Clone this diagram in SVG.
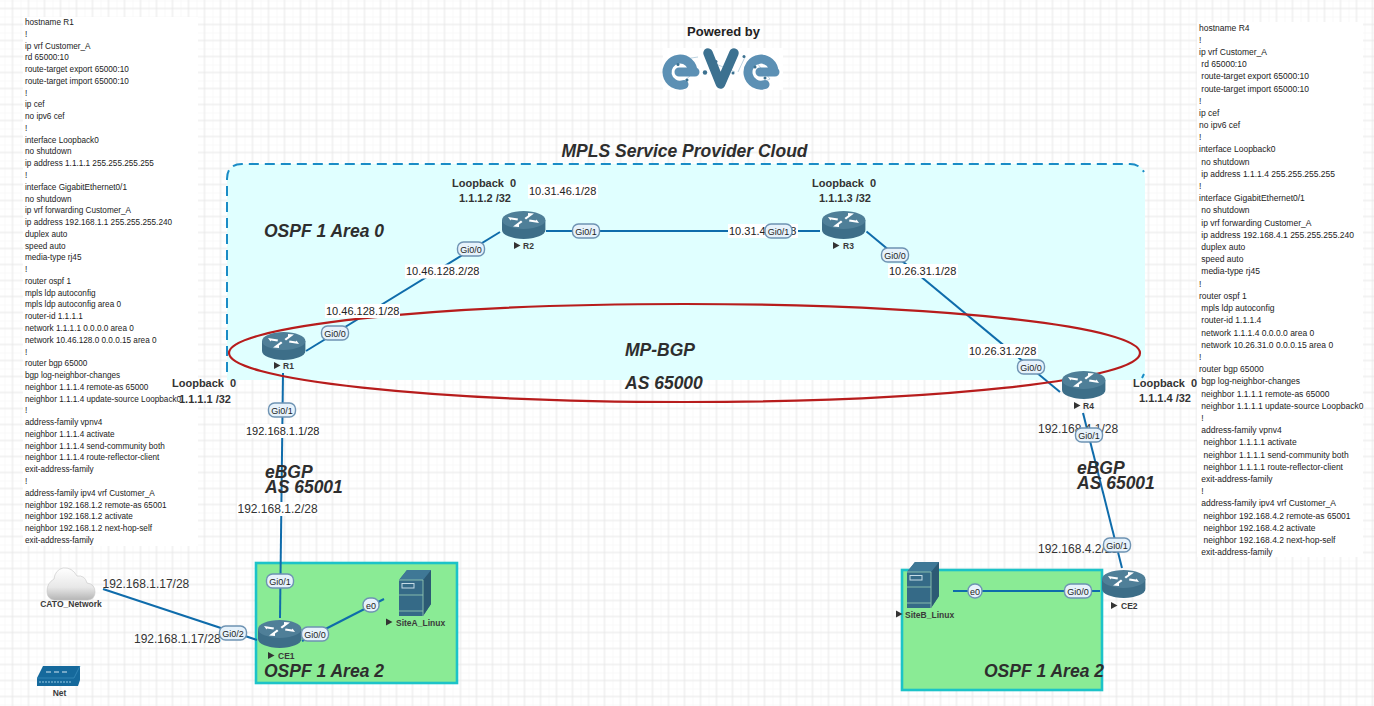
<svg xmlns="http://www.w3.org/2000/svg" width="1374" height="706" viewBox="0 0 1374 706">
<style>
text{font-family:"Liberation Sans",Arial,sans-serif;fill:#222}
.cfgL{font-size:8.2px}
.cfgR{font-size:8.5px}
.ip{font-size:11px;fill:#222}
.ipb{font-size:12px;fill:#333}
.lo{font-size:11px;font-weight:bold;fill:#333;white-space:pre}
.title{font-size:17.5px;font-weight:bold;font-style:italic;fill:#2e2e2e}
.name{font-size:8.5px;font-weight:bold;fill:#3a3a3a}
.pill{font-size:9px;text-anchor:middle;fill:#222}
.pb{fill:#e6f2fb;stroke:#6e93b3;stroke-width:1.4}
.bg{fill:#fff}
.link{stroke:#0f6cab;stroke-width:2;fill:none}
.area{fill:#8aeb95;stroke:#1cc3c8;stroke-width:2.6}
</style>
<defs>
<pattern id="grid" width="16" height="16" patternUnits="userSpaceOnUse" x="4.5" y="0.5">
<path d="M0,0V16M0,0H16" stroke="#f3f3f3" stroke-width="1" fill="none"/>
<path d="M8,0V16M0,8H16" stroke="#e7e7e7" stroke-width="1" fill="none"/>
</pattern>
<linearGradient id="cl" x1="0" y1="0" x2="0" y2="1"><stop offset="0" stop-color="#fff"/><stop offset=".6" stop-color="#e8e8e8"/><stop offset="1" stop-color="#b5b5b5"/></linearGradient>
<g id="router">
<path d="M0,9V19A21.7,9 0 0 0 43.4,19V9Z" fill="#3d6e88"/>
<ellipse cx="21.7" cy="9" rx="21.7" ry="9" fill="#4f7f98"/>
<path d="M6,6L16,7.5 15.5,9.5 9,8.5 8.5,9.5ZM37,12L27,10.5 27.5,8.5 34,9.5 34.5,8.5ZM26,2L32,2.5 24,8.5 22.5,7 26,4.5ZM17,16L11,15.5 19,9.5 20.5,11 17,13.5Z" fill="#fff"/>
</g>
<g id="server">
<path d="M0,10L8,0H32V34L24,46H0Z" fill="#356a87"/>
<path d="M24,10L32,0V34L24,46Z" fill="#2c5a74"/>
<path d="M0,10L8,0H32L24,10Z" fill="#3f7896"/>
<path d="M0,10H24M0,25H24M0,41H24M24,10V46" stroke="#8fc4b0" stroke-width=".9" fill="none"/>
<rect x="3" y="13.5" width="12" height="4.5" fill="none" stroke="#c6dbe6" stroke-width="1"/>
</g>
<polygon id="tri" points="0,0 6.5,3.5 0,7" fill="#333"/>
</defs>

<rect width="1374" height="706" fill="#fff"/>
<rect width="1374" height="706" fill="url(#grid)"/>

<g id="config-r1">
<rect x="23" y="17" width="175" height="529" fill="#fff"/>
<text class="cfgL"><tspan x="25" y="25">hostname R1</tspan><tspan x="25" dy="11.77">!</tspan><tspan x="25" dy="11.77">ip vrf Customer_A</tspan><tspan x="25" dy="11.77">rd 65000:10</tspan><tspan x="25" dy="11.77">route-target export 65000:10</tspan><tspan x="25" dy="11.77">route-target import 65000:10</tspan><tspan x="25" dy="11.77">!</tspan><tspan x="25" dy="11.77">ip cef</tspan><tspan x="25" dy="11.77">no ipv6 cef</tspan><tspan x="25" dy="11.77">!</tspan><tspan x="25" dy="11.77">interface Loopback0</tspan><tspan x="25" dy="11.77">no shutdown</tspan><tspan x="25" dy="11.77">ip address 1.1.1.1 255.255.255.255</tspan><tspan x="25" dy="11.77">!</tspan><tspan x="25" dy="11.77">interface GigabitEthernet0/1</tspan><tspan x="25" dy="11.77">no shutdown</tspan><tspan x="25" dy="11.77">ip vrf forwarding Customer_A</tspan><tspan x="25" dy="11.77">ip address 192.168.1.1 255.255.255.240</tspan><tspan x="25" dy="11.77">duplex auto</tspan><tspan x="25" dy="11.77">speed auto</tspan><tspan x="25" dy="11.77">media-type rj45</tspan><tspan x="25" dy="11.77">!</tspan><tspan x="25" dy="11.77">router ospf 1</tspan><tspan x="25" dy="11.77">mpls ldp autoconfig</tspan><tspan x="25" dy="11.77">mpls ldp autoconfig area 0</tspan><tspan x="25" dy="11.77">router-id 1.1.1.1</tspan><tspan x="25" dy="11.77">network 1.1.1.1 0.0.0.0 area 0</tspan><tspan x="25" dy="11.77">network 10.46.128.0 0.0.0.15 area 0</tspan><tspan x="25" dy="11.77">!</tspan><tspan x="25" dy="11.77">router bgp 65000</tspan><tspan x="25" dy="11.77">bgp log-neighbor-changes</tspan><tspan x="25" dy="11.77">neighbor 1.1.1.4 remote-as 65000</tspan><tspan x="25" dy="11.77">neighbor 1.1.1.4 update-source Loopback0</tspan><tspan x="25" dy="11.77">!</tspan><tspan x="25" dy="11.77">address-family vpnv4</tspan><tspan x="25" dy="11.77">neighbor 1.1.1.4 activate</tspan><tspan x="25" dy="11.77">neighbor 1.1.1.4 send-community both</tspan><tspan x="25" dy="11.77">neighbor 1.1.1.4 route-reflector-client</tspan><tspan x="25" dy="11.77">exit-address-family</tspan><tspan x="25" dy="11.77">!</tspan><tspan x="25" dy="11.77">address-family ipv4 vrf Customer_A</tspan><tspan x="25" dy="11.77">neighbor 192.168.1.2 remote-as 65001</tspan><tspan x="25" dy="11.77">neighbor 192.168.1.2 activate</tspan><tspan x="25" dy="11.77">neighbor 192.168.1.2 next-hop-self</tspan><tspan x="25" dy="11.77">exit-address-family</tspan></text>
</g>

<g id="config-r4">
<rect x="1197" y="22" width="166" height="535" fill="#fff"/>
<text class="cfgR"><tspan x="1199" y="30.5">hostname R4</tspan><tspan x="1199" dy="12.2">!</tspan><tspan x="1199" dy="12.2">ip vrf Customer_A</tspan><tspan x="1201.3" dy="12.2">rd 65000:10</tspan><tspan x="1201.3" dy="12.2">route-target export 65000:10</tspan><tspan x="1201.3" dy="12.2">route-target import 65000:10</tspan><tspan x="1199" dy="12.2">!</tspan><tspan x="1199" dy="12.2">ip cef</tspan><tspan x="1199" dy="12.2">no ipv6 cef</tspan><tspan x="1199" dy="12.2">!</tspan><tspan x="1199" dy="12.2">interface Loopback0</tspan><tspan x="1201.3" dy="12.2">no shutdown</tspan><tspan x="1201.3" dy="12.2">ip address 1.1.1.4 255.255.255.255</tspan><tspan x="1199" dy="12.2">!</tspan><tspan x="1199" dy="12.2">interface GigabitEthernet0/1</tspan><tspan x="1201.3" dy="12.2">no shutdown</tspan><tspan x="1201.3" dy="12.2">ip vrf forwarding Customer_A</tspan><tspan x="1201.3" dy="12.2">ip address 192.168.4.1 255.255.255.240</tspan><tspan x="1201.3" dy="12.2">duplex auto</tspan><tspan x="1201.3" dy="12.2">speed auto</tspan><tspan x="1201.3" dy="12.2">media-type rj45</tspan><tspan x="1199" dy="12.2">!</tspan><tspan x="1199" dy="12.2">router ospf 1</tspan><tspan x="1201.3" dy="12.2">mpls ldp autoconfig</tspan><tspan x="1201.3" dy="12.2">router-id 1.1.1.4</tspan><tspan x="1201.3" dy="12.2">network 1.1.1.4 0.0.0.0 area 0</tspan><tspan x="1201.3" dy="12.2">network 10.26.31.0 0.0.0.15 area 0</tspan><tspan x="1199" dy="12.2">!</tspan><tspan x="1199" dy="12.2">router bgp 65000</tspan><tspan x="1201.3" dy="12.2">bgp log-neighbor-changes</tspan><tspan x="1201.3" dy="12.2">neighbor 1.1.1.1 remote-as 65000</tspan><tspan x="1201.3" dy="12.2">neighbor 1.1.1.1 update-source Loopback0</tspan><tspan x="1201.3" dy="12.2">!</tspan><tspan x="1201.3" dy="12.2">address-family vpnv4</tspan><tspan x="1203.6" dy="12.2">neighbor 1.1.1.1 activate</tspan><tspan x="1203.6" dy="12.2">neighbor 1.1.1.1 send-community both</tspan><tspan x="1203.6" dy="12.2">neighbor 1.1.1.1 route-reflector-client</tspan><tspan x="1201.3" dy="12.2">exit-address-family</tspan><tspan x="1201.3" dy="12.2">!</tspan><tspan x="1201.3" dy="12.2">address-family ipv4 vrf Customer_A</tspan><tspan x="1203.6" dy="12.2">neighbor 192.168.4.2 remote-as 65001</tspan><tspan x="1203.6" dy="12.2">neighbor 192.168.4.2 activate</tspan><tspan x="1203.6" dy="12.2">neighbor 192.168.4.2 next-hop-self</tspan><tspan x="1201.3" dy="12.2">exit-address-family</tspan></text>
</g>

<g id="logo">
<text x="723.5" y="36" font-size="13" font-weight="bold" text-anchor="middle" fill="#333">Powered by</text>
<rect x="663" y="48" width="120" height="42" fill="#fff"/>
<path d="M678,60L698,57M678,86L690,76M716,64L735,72M738,72L745,57M756,62L770,79M757,85L770,79" stroke="#9fbfd2" stroke-width=".7" fill="none"/>
<path d="M693,72A13,13 0 1 0 684,84.500M679,72H695" stroke="#5c90b4" stroke-width="9" stroke-linecap="round" fill="none"/>
<path d="M708,53L720.500,84L734,53" stroke="#3c7190" stroke-width="9.500" stroke-linecap="round" stroke-linejoin="round" fill="none"/>
<path d="M774,72A13,13 0 1 0 765,84.500M760,72H775" stroke="#5c90b4" stroke-width="9" stroke-linecap="round" fill="none"/>
<g fill="#3c7190"><circle cx="678" cy="64.500" r="1.500"/><circle cx="687" cy="80" r="1.500"/><circle cx="705" cy="72.500" r="2.200"/><circle cx="716" cy="61.500" r="1.500"/><circle cx="733" cy="73" r="1.500"/><circle cx="744" cy="56.500" r="1.500"/><circle cx="755" cy="67" r="1.500"/><circle cx="765" cy="78" r="1.500"/></g>
</g>

<g id="mpls-cloud">
<path d="M242,164H1130Q1145,164 1145,179V380H227V179Q227,164 242,164Z" fill="#e0ffff"/>
<path d="M227,372V179Q227,164 242,164H1130Q1139,164 1144,172M1144,374L1142,378" fill="none" stroke="#1a8cc6" stroke-width="2" stroke-dasharray="10 6"/>
<text class="title" x="561.500" y="157">MPLS Service Provider Cloud</text>
<text class="title" x="264" y="237">OSPF 1 Area 0</text>
</g>

<g id="area-left"><rect class="area" x="256" y="563" width="201" height="120"/></g>
<g id="area-right"><rect class="area" x="902" y="570" width="200" height="120"/></g>

<g id="connectors">
<line class="link" x1="306" y1="351" x2="500" y2="232"/>
<line class="link" x1="546" y1="231" x2="820" y2="231"/>
<line class="link" x1="866.500" y1="231.500" x2="1060" y2="392"/>
<line class="link" x1="283" y1="373" x2="280" y2="618"/>
<line class="link" x1="1083" y1="413" x2="1122" y2="568"/>
<line class="link" x1="103" y1="589" x2="257" y2="640"/>
<line class="link" x1="302" y1="641" x2="384" y2="599"/>
<line class="link" x1="953" y1="591" x2="1100" y2="591"/>
</g>

<g id="mp-bgp">
<ellipse cx="684.500" cy="353" rx="455.500" ry="49" fill="none" stroke="#b71c1c" stroke-width="2.200"/>
<text class="title" x="625" y="356">MP-BGP</text>
<text class="title" x="625" y="389">AS 65000</text>
</g>

<g id="R1"><use href="#router" x="262" y="332"/><use href="#tri" x="274" y="362"/><text class="name" x="283" y="369">R1</text>
<text class="lo" x="172" y="387">Loopback  0</text><text class="lo" x="179" y="403">1.1.1.1 /32</text></g>
<g id="R2"><use href="#router" x="502" y="211"/><use href="#tri" x="514" y="242"/><text class="name" x="523" y="249">R2</text>
<text class="lo" x="452" y="187">Loopback  0</text><text class="lo" x="459" y="202">1.1.1.2 /32</text></g>
<g id="R3"><use href="#router" x="822" y="211"/><use href="#tri" x="833" y="242"/><text class="name" x="843" y="249">R3</text>
<text class="lo" x="812" y="187">Loopback  0</text><text class="lo" x="819" y="202">1.1.1.3 /32</text></g>
<g id="R4"><use href="#router" x="1062" y="371"/><use href="#tri" x="1074" y="402"/><text class="name" x="1083" y="409">R4</text>
<text class="lo" x="1133" y="387">Loopback  0</text><text class="lo" x="1139" y="402">1.1.1.4 /32</text></g>
<g id="CE1"><use href="#router" x="258" y="620"/><use href="#tri" x="268" y="652"/><text class="name" x="278" y="659">CE1</text></g>
<g id="CE2"><use href="#router" x="1102" y="570"/><use href="#tri" x="1111" y="602"/><text class="name" x="1121" y="609">CE2</text></g>
<g id="SiteA_Linux"><use href="#server" x="399" y="570"/><use href="#tri" x="386" y="618.500"/><text class="name" x="396" y="625.500">SiteA_Linux</text></g>
<g id="SiteB_Linux"><use href="#server" x="907" y="562"/><use href="#tri" x="896" y="610.500"/><text class="name" x="905" y="617.500">SiteB_Linux</text></g>
<g id="CATO_Network">
<path d="M54,600H88Q95,599 95,592Q95,584 87,583Q85,575 77,576Q72,567 63,568Q55,570 54,579Q47,583 47,591Q47,599 54,600Z" fill="url(#cl)" stroke="#c4c4c4" stroke-width=".6"/>
<text class="name" x="71" y="606.500" text-anchor="middle">CATO_Network</text>
</g>
<g id="Net">
<path d="M37,678L43,666H80V680L78,686H37Z" fill="#15699c"/>
<path d="M37,678H74L80,666" fill="none" stroke="#3c8fbe" stroke-width=".7"/>
<path d="M46,672H68" stroke="#d4e6f0" stroke-width="1" stroke-dasharray="5 3"/>
<path d="M39,682H72" stroke="#6aa9cb" stroke-width="1.500" stroke-dasharray="2 1"/>
<text class="name" x="59.500" y="695.500" text-anchor="middle">Net</text>
</g>

<g id="ip-labels">
<rect class="bg" x="405" y="264.500" width="75" height="14"/><text class="ip" x="406" y="275">10.46.128.2/28</text>
<rect class="bg" x="325" y="304" width="75" height="14"/><text class="ip" x="326" y="315">10.46.128.1/28</text>
<rect class="bg" x="528" y="184.500" width="70" height="14"/><text class="ip" x="529" y="195">10.31.46.1/28</text>
<rect class="bg" x="728" y="224" width="70" height="14"/><text class="ip" x="729" y="235">10.31.46.2/28</text>
<rect class="bg" x="888" y="264" width="70" height="14"/><text class="ip" x="889" y="275">10.26.31.1/28</text>
<rect class="bg" x="968" y="344" width="70" height="14"/><text class="ip" x="969" y="355">10.26.31.2/28</text>
<rect class="bg" x="245" y="424" width="75" height="14"/><text class="ip" x="246" y="435">192.168.1.1/28</text>
<rect class="bg" x="237" y="502" width="81" height="14"/><text class="ipb" x="237.500" y="513">192.168.1.2/28</text>
<text class="ipb" x="102.500" y="588">192.168.1.17/28</text>
<text class="ipb" x="134" y="643">192.168.1.17/28</text>
<text class="ipb" x="1038" y="433">192.168.4.1/28</text>
<text class="ipb" x="1038" y="553">192.168.4.2/28</text>
</g>

<g id="ebgp-labels">
<text class="title" x="265" y="478">eBGP</text><text class="title" x="265" y="493">AS 65001</text>
<text class="title" x="1077" y="474">eBGP</text><text class="title" x="1077" y="489">AS 65001</text>
<text class="title" x="264" y="676.500">OSPF 1 Area 2</text>
<text class="title" x="984" y="676.500">OSPF 1 Area 2</text>
</g>

<g id="port-labels">
<rect class="pb" x="321.500" y="326" width="27" height="14" rx="6"/><text class="pill" x="335" y="336.500">Gi0/0</text>
<rect class="pb" x="457.500" y="242" width="27" height="14" rx="6"/><text class="pill" x="471" y="252.500">Gi0/0</text>
<rect class="pb" x="572.500" y="224" width="27" height="14" rx="6"/><text class="pill" x="586" y="234.500">Gi0/1</text>
<rect class="pb" x="765" y="224" width="27" height="14" rx="6"/><text class="pill" x="778.500" y="234.500">Gi0/1</text>
<rect class="pb" x="881.500" y="248" width="27" height="14" rx="6"/><text class="pill" x="895" y="258.500">Gi0/0</text>
<rect class="pb" x="1017.500" y="360" width="27" height="14" rx="6"/><text class="pill" x="1031" y="370.500">Gi0/0</text>
<rect class="pb" x="1075.500" y="428" width="27" height="14" rx="6"/><text class="pill" x="1089" y="438.500">Gi0/1</text>
<rect class="pb" x="268.500" y="403" width="27" height="14" rx="6"/><text class="pill" x="282" y="413.500">Gi0/1</text>
<rect class="pb" x="266.500" y="574" width="27" height="14" rx="6"/><text class="pill" x="280" y="584.500">Gi0/1</text>
<rect class="pb" x="219.500" y="626" width="27" height="14" rx="6"/><text class="pill" x="233" y="636.500">Gi0/2</text>
<rect class="pb" x="301.500" y="627" width="27" height="14" rx="6"/><text class="pill" x="315" y="637.500">Gi0/0</text>
<rect class="pb" x="363" y="598" width="16" height="14" rx="6.500"/><text class="pill" x="371" y="608.500">e0</text>
<rect class="pb" x="968" y="584" width="14" height="14" rx="6.500"/><text class="pill" x="975" y="594.500">e0</text>
<rect class="pb" x="1064.500" y="584" width="27" height="14" rx="6"/><text class="pill" x="1078" y="594.500">Gi0/0</text>
<rect class="pb" x="1103.500" y="538" width="27" height="14" rx="6"/><text class="pill" x="1117" y="548.500">Gi0/1</text>
</g>
</svg>
